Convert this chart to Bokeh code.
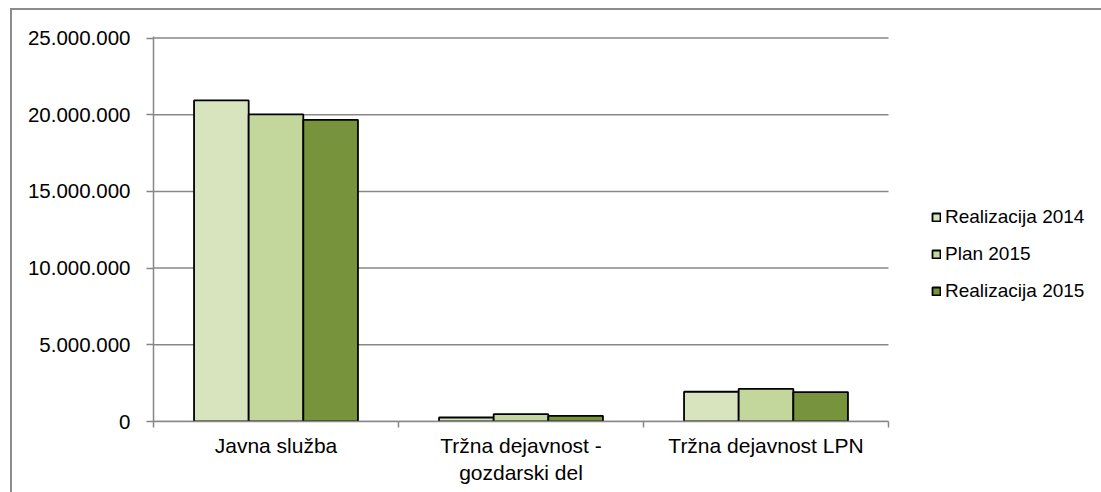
from bokeh.plotting import figure
from bokeh.models import (ColumnDataSource, Range1d, FixedTicker,
                          Legend, LegendItem, CustomJSTickFormatter)
from bokeh.transform import dodge
from bokeh.embed import file_html
from bokeh.resources import INLINE

categories = ["Javna služba", "Tržna dejavnost -\ngozdarski del", "Tržna dejavnost LPN"]
series_names = ["Realizacija 2014", "Plan 2015", "Realizacija 2015"]
real_2014 = [20930000, 260000, 1940000]
plan_2015 = [20020000, 480000, 2130000]
real_2015 = [19670000, 370000, 1920000]
series_colors = ["#d7e4bd", "#c3d69b", "#77933c"]
y_ticks = [0, 5000000, 10000000, 15000000, 20000000, 25000000]

GRID = "#878787"
FONT = "Liberation Sans"
W, H = 1101, 492
LEFT, PLOT_RIGHT = 153, 888

ncat = len(categories)
centers = [i + 0.5 for i in range(ncat)]
bounds = [float(i) for i in range(ncat + 1)]

src = ColumnDataSource(dict(xpos=centers, cat=categories, s0=real_2014, s1=plan_2015, s2=real_2015))
grid_src = ColumnDataSource(dict(y=y_ticks, x0=[0] * len(y_ticks), x1=[ncat] * len(y_ticks)))

# the frame runs to the right edge so the legend can sit beside the bars;
# the category slots occupy the left part of it
x_end = ncat * (W - LEFT) / (PLOT_RIGHT - LEFT)
p = figure(width=W, height=H, x_range=Range1d(0, x_end),
           y_range=Range1d(0, 25100000), output_backend="svg", toolbar_location=None,
           min_border_left=LEFT, min_border_right=0,
           min_border_top=36, min_border_bottom=71)
p.outline_line_color = None
p.background_fill_color = "white"
p.border_fill_alpha = 0
p.styles = {
    "background-color": "white",
    "background-image": "linear-gradient(#8c8c8c, #8c8c8c), linear-gradient(#8c8c8c, #8c8c8c)",
    "background-size": "100% 2px, 2px 100%",
    "background-position": "10px 8px, 10px 8px",
    "background-repeat": "no-repeat",
}
p.xgrid.grid_line_color = None
p.ygrid.grid_line_color = None

# horizontal gridlines across the category slots only
p.segment(x0="x0", x1="x1", y0="y", y1="y", source=grid_src,
          line_color=GRID, line_width=1.5)

bw = 0.223
renderers = []
for i, col in enumerate(["s0", "s1", "s2"]):
    r = p.vbar(x=dodge("xpos", (i - 1) * bw), top=col, width=bw, bottom=0,
               source=src, fill_color=series_colors[i], line_color="black", line_width=1.8)
    renderers.append(r)

yax = p.yaxis[0]
yax.ticker = FixedTicker(ticks=y_ticks)
yax.formatter = CustomJSTickFormatter(code="""
return Math.round(tick).toString().replace(/\\B(?=(\\d{3})+(?!\\d))/g, ".");
""")
yax.axis_line_color = GRID
yax.axis_line_width = 1.5
yax.major_tick_line_color = GRID
yax.major_tick_line_width = 1.5
yax.major_tick_out = 7
yax.major_tick_in = 0
yax.minor_tick_line_color = None
yax.major_label_text_font = FONT
yax.major_label_text_font_size = "20.5px"
yax.major_label_text_color = "black"
yax.major_label_standoff = 16

xax = p.xaxis[0]
xax.ticker = FixedTicker(ticks=centers, minor_ticks=bounds)
xax.bounds = (0, ncat)
xax.major_label_overrides = {c: lab for c, lab in zip(centers, categories)}
xax.axis_line_color = GRID
xax.axis_line_width = 1.5
xax.major_tick_line_color = None
xax.major_tick_out = 0
xax.major_tick_in = 0
xax.minor_tick_line_color = GRID
xax.minor_tick_line_width = 1.5
xax.minor_tick_out = 6
xax.minor_tick_in = 0
xax.major_label_text_font = FONT
xax.major_label_text_font_size = "21px"
xax.major_label_text_color = "black"
xax.major_label_standoff = 6

legend = Legend(items=[LegendItem(label=n, renderers=[r]) for n, r in zip(series_names, renderers)],
                location=(778, 119), orientation="vertical")
legend.label_text_font = FONT
legend.label_text_font_size = "19px"
legend.label_text_color = "black"
legend.glyph_width = 10
legend.glyph_height = 10
legend.label_standoff = 4
legend.label_height = 22
legend.spacing = 15
legend.padding = 0
legend.margin = 0
legend.border_line_alpha = 0
legend.background_fill_alpha = 0
p.add_layout(legend, "center")

open("out.html", "w").write(file_html(p, INLINE))
